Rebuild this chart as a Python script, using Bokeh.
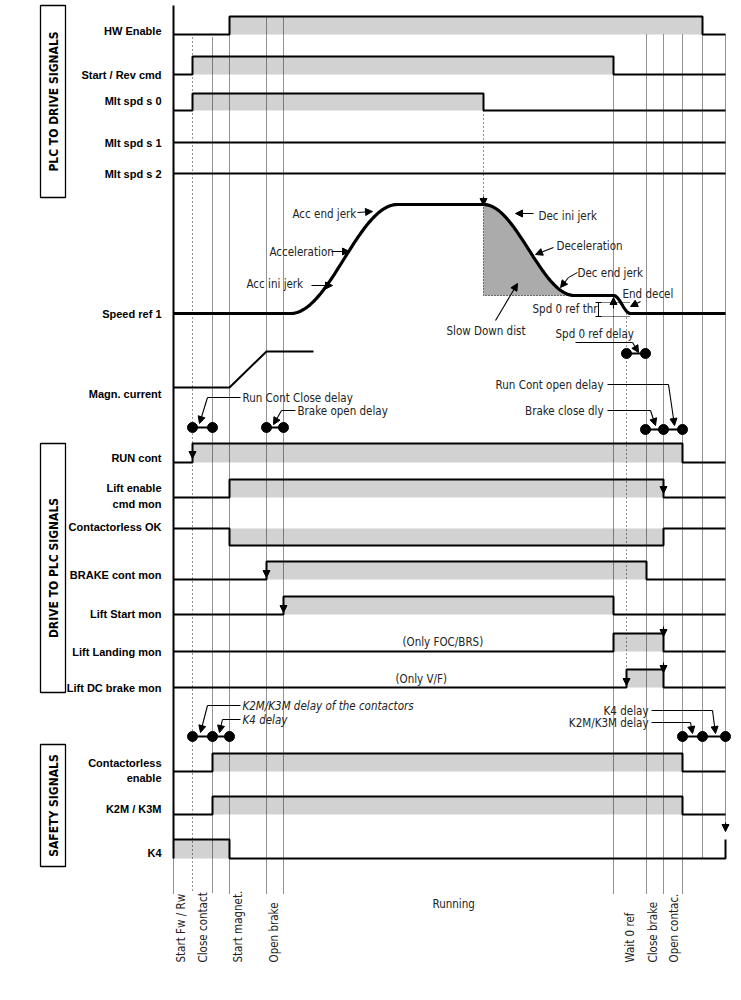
import numpy as np
from bokeh.plotting import figure
from bokeh.models import Range1d, Arrow, NormalHead, ColumnDataSource
from bokeh.core.properties import value
from bokeh.embed import file_html
from bokeh.resources import INLINE

# ---------------- data ----------------
# event instants on the time axis (drawing units)
event_names = ["Start Fw / Rw", "Close contact", "K2M on", "Start magnet.", "Open brake", "Lift start",
               "Slow down", "Wait 0 ref", "Spd 0 ref", "Close brake", "Brake closed", "Open contac.",
               "K2M off", "K4 on"]
event_t = [173, 192, 212, 229, 266, 283, 483, 613, 626, 646, 663, 682, 702, 725]

# digital signals: transition times and levels (1 = active)
hw_enable_t = [173, 229, 702, 725];          hw_enable_v = [0, 1, 0, 0]
start_rev_t = [173, 192, 613, 725];          start_rev_v = [0, 1, 0, 0]
mlt_s0_t = [173, 192, 483, 725];             mlt_s0_v = [0, 1, 0, 0]
mlt_s1_t = [173, 725];                       mlt_s1_v = [0, 0]
mlt_s2_t = [173, 725];                       mlt_s2_v = [0, 0]
run_cont_t = [173, 192, 682, 725];           run_cont_v = [0, 1, 0, 0]
lift_enable_t = [173, 229, 663, 725];        lift_enable_v = [0, 1, 0, 0]
contless_ok_t = [173, 229, 663, 725];        contless_ok_v = [0, 1, 0, 0]
brake_cont_t = [173, 266, 646, 725];         brake_cont_v = [0, 1, 0, 0]
lift_start_t = [173, 283, 613, 725];         lift_start_v = [0, 1, 0, 0]
lift_landing_t = [173, 613, 663, 725];       lift_landing_v = [0, 1, 0, 0]
lift_dc_t = [173, 626, 663, 725];            lift_dc_v = [0, 1, 0, 0]
contless_en_t = [173, 212, 682, 725];        contless_en_v = [0, 1, 0, 0]
k2m_t = [173, 212, 682, 725];                k2m_v = [0, 1, 0, 0]
k4_t = [173, 229, 725];                      k4_v = [1, 0, 1]

# analog profiles (normalised)
speed_t = [173, 290, 397, 483, 574, 613, 630, 725]
speed_v = [0, 0, 1, 1, 0.165, 0.165, 0, 0]
magn_t = [173, 229, 266, 313]
magn_v = [0, 0, 1, 1]

# ---------------- layout ----------------
FONT_B = "Liberation Sans"
FONT = "DejaVu Sans Condensed"
GREY = "#d2d2d2"
DARK = "#ababab"

p = figure(width=733, height=984, x_range=Range1d(0, 733), y_range=Range1d(984, 0),
           output_backend="svg", toolbar_location=None, min_border=0)
p.axis.visible = False
p.grid.visible = False
p.outline_line_color = None
p.background_fill_color = "white"

# rows: (y of inactive level, y of active level)
rows = [
    ("HW Enable", hw_enable_t, hw_enable_v, 34, 16),
    ("Start / Rev cmd", start_rev_t, start_rev_v, 74, 56),
    ("Mlt spd s 0", mlt_s0_t, mlt_s0_v, 110, 93),
    ("Mlt spd s 1", mlt_s1_t, mlt_s1_v, 142, 125),
    ("Mlt spd s 2", mlt_s2_t, mlt_s2_v, 173, 156),
    ("RUN cont", run_cont_t, run_cont_v, 462, 443),
    ("Lift enable", lift_enable_t, lift_enable_v, 497, 479),
    ("Contactorless OK", contless_ok_t, contless_ok_v, 528, 545),
    ("BRAKE cont mon", brake_cont_t, brake_cont_v, 579, 561),
    ("Lift Start mon", lift_start_t, lift_start_v, 614, 596),
    ("Lift Landing mon", lift_landing_t, lift_landing_v, 651, 633),
    ("Lift DC brake mon", lift_dc_t, lift_dc_v, 687, 669),
    ("Contactorless enable", contless_en_t, contless_en_v, 771, 753),
    ("K2M / K3M", k2m_t, k2m_v, 814, 796),
    ("K4", k4_t, k4_v, 858, 839),
]

# grey fills first
for name, ts, vs, ylo, yhi in rows:
    for i in range(len(ts) - 1):
        if vs[i]:
            p.quad(left=ts[i], right=ts[i + 1], top=yhi, bottom=ylo,
                   fill_color=GREY, line_color=None)

def profile(ts, vs, smooth=True, n=50):
    xs, ys = [], []
    for i in range(len(ts) - 1):
        s = np.linspace(0, 1, n)
        w = (1 - np.cos(np.pi * s)) / 2 if (smooth and vs[i] != vs[i + 1]) else s
        xs.extend(ts[i] + (ts[i + 1] - ts[i]) * s)
        ys.extend(vs[i] + (vs[i + 1] - vs[i]) * w)
    return np.array(xs), np.array(ys)

SP0, SP1 = 313, 204
sx, sv = profile(speed_t, speed_v)
sy = SP0 - (SP0 - SP1) * sv
low_y = SP0 - (SP0 - SP1) * speed_v[4]
m = (sx >= speed_t[3]) & (sx <= speed_t[4])
p.varea(x=sx[m], y1=sy[m], y2=low_y, fill_color=DARK)
p.line([speed_t[3], speed_t[3], speed_t[4]], [SP1, low_y, low_y], line_color="black",
       line_width=1, line_dash="1 2")

# vertical dotted event lines (time, top, bottom, dash)
vlines = [
    (192, 37, 893, "1 3"), (212, 37, 893, "1 1"), (229, 34, 893, "1 1"),
    (266, 16, 893, "1 1"), (283, 16, 893, "1 1"), (483, 110, 204, "1 3"),
    (613, 74, 893, "1 1"), (626, 313, 687, "1 3"), (646, 34, 893, "1 1"),
    (663, 34, 893, "1 1"), (682, 34, 893, "1 1"), (702, 34, 858, "1 1"),
    (725, 34, 830, "1 1"), (173, 858, 893, "1 1"),
]
for t, y0, y1, d in vlines:
    p.line([t, t], [y0, y1], line_color="black", line_width=1, line_dash=d, line_alpha=0.85)

p.line([173, 173], [5, 858], line_color="black", line_width=2)

for name, ts, vs, ylo, yhi in rows:
    xs, ys = [], []
    for i in range(len(ts)):
        if i > 0:
            xs.append(ts[i]); ys.append(yhi if vs[i - 1] else ylo)
        xs.append(ts[i]); ys.append(yhi if vs[i] else ylo)
    p.line(xs, ys, line_color="black", line_width=2)

p.line(sx, sy, line_color="black", line_width=3.2)

MG0, MG1 = 387, 351
mx, mv = profile(magn_t, magn_v, smooth=False, n=2)
p.line(mx, MG0 - (MG0 - MG1) * mv, line_color="black", line_width=2)

p.segment(x0=[598, 598], y0=[302, 316], x1=[630, 630], y1=[302, 316], line_color="black",
          line_width=1, line_dash="1 1")
p.segment(x0=[598, 595, 595], y0=[302, 302, 316], x1=[598, 601, 601], y1=[316, 302, 316],
          line_color="black", line_width=1)

boxes = [("PLC TO DRIVE SIGNALS", 5, 197), ("DRIVE TO PLC SIGNALS", 443, 692),
         ("SAFETY SIGNALS", 744, 866)]
for txt, y0, y1 in boxes:
    p.quad(left=40, right=65, top=y0, bottom=y1, fill_color=None, line_color="black", line_width=1.3)
    p.text(x=[53], y=[(y0 + y1) / 2], text=[txt], angle=np.pi / 2, text_align="center",
           text_baseline="middle", text_font=value(FONT), text_font_style="bold",
           text_font_size="12px", text_color="black")

row_labels = ["HW Enable", "Start / Rev cmd", "Mlt spd s 0", "Mlt spd s 1", "Mlt spd s 2",
              "Speed ref 1", "Magn. current", "RUN cont", "Lift enable", "cmd mon",
              "Contactorless OK", "BRAKE cont mon", "Lift Start mon", "Lift Landing mon",
              "Lift DC brake mon", "Contactorless", "enable", "K2M / K3M", "K4"]
row_label_y = [30, 74, 100, 142, 173, 313, 393, 457, 487, 503, 526, 574, 613, 651, 687,
               762, 777, 808, 852]
p.text(x=[161] * len(row_labels), y=row_label_y, text=row_labels, text_align="right",
       text_baseline="middle", text_font=value(FONT_B), text_font_style="bold",
       text_font_size="11px", text_color="black")

ann = [("Acc end jerk", 292, 213), ("Acceleration", 269, 251), ("Acc ini jerk", 246, 283),
       ("Dec ini jerk", 538, 215), ("Deceleration", 556, 245), ("Dec end jerk", 577, 272),
       ("End decel", 622, 293), ("Spd 0 ref thr", 532, 308), ("Slow Down dist", 446, 330),
       ("Spd 0 ref delay", 555, 333), ("Run Cont Close delay", 242, 397),
       ("Brake open delay", 297, 410), ("(Only FOC/BRS)", 402, 641), ("(Only V/F)", 395, 678),
       ("Running", 432, 903)]
p.text(x=[a[1] for a in ann], y=[a[2] for a in ann], text=[a[0] for a in ann],
       text_align="left", text_baseline="middle", text_font=value(FONT),
       text_font_size="11.5px", text_color="#222222")
ann_r = [("Run Cont open delay", 603, 384), ("Brake close dly", 603, 410),
         ("K4 delay", 648, 710), ("K2M/K3M delay", 648, 722)]
p.text(x=[a[1] for a in ann_r], y=[a[2] for a in ann_r], text=[a[0] for a in ann_r],
       text_align="right", text_baseline="middle", text_font=value(FONT),
       text_font_size="11.5px", text_color="#222222")
ann_i = [("K2M/K3M delay of the contactors", 242, 705), ("K4 delay", 242, 719)]
p.text(x=[a[1] for a in ann_i], y=[a[2] for a in ann_i], text=[a[0] for a in ann_i],
       text_align="left", text_baseline="middle", text_font=value(FONT),
       text_font_style="italic", text_font_size="11.5px", text_color="#222222")

ev_lab = ["Start Fw / Rw", "Close contact", "Start magnet.", "Open brake",
          "Wait 0 ref", "Close brake", "Open contac."]
ev_lab_x = [180, 202, 237, 273, 629, 652, 673]
p.text(x=ev_lab_x, y=[962] * len(ev_lab), text=ev_lab, angle=np.pi / 2, text_align="left",
       text_baseline="middle", text_font=value(FONT), text_font_size="11.5px",
       text_color="#222222")

leaders = [
    ([240, 207], [397, 397]), ([295, 281], [410, 410]), ([575, 632], [342, 342]),
    ([607, 668], [384, 384]), ([607, 650], [410, 410]), ([240, 207], [705, 705]),
    ([240, 222], [719, 719]), ([651, 712], [710, 710]), ([651, 690], [722, 722]),
    ([577, 568], [272, 277]),
]
for xs, ys in leaders:
    p.line(xs, ys, line_color="black", line_width=1)

arrows = dict(
    x_start=[357, 331, 311, 533, 553, 568, 640, 495, 632, 668, 650, 207, 281, 207, 222, 712, 690,
             192, 663, 266, 283, 663, 626, 663, 725, 613, 483],
    y_start=[212, 251, 285, 213, 247, 277, 301, 320, 342, 384, 410, 397, 410, 705, 719, 710, 722,
             449, 484, 567, 602, 626, 675, 662, 822, 308, 196],
    x_end=[372, 349, 332, 515, 535, 560, 630, 517, 638, 674, 655, 199, 273, 200, 219, 715, 692,
           192, 663, 266, 283, 663, 626, 663, 725, 613, 483],
    y_end=[211, 251, 285, 213, 254, 287, 306, 283, 352, 425, 425, 423, 424, 732, 732, 733, 733,
           458, 493, 577, 612, 636, 685, 672, 831, 297, 205],
)
p.add_layout(Arrow(end=NormalHead(size=7, line_color="black", fill_color="black", line_width=1),
                   source=ColumnDataSource(arrows), x_start="x_start", y_start="y_start",
                   x_end="x_end", y_end="y_end", line_color="black", line_width=1.1))

delay_groups = [([192, 212], 427), ([266, 283], 427), ([626, 645], 353),
                ([645, 663, 682], 429), ([192, 212, 229], 736), ([682, 702, 725], 736)]
for ts, y in delay_groups:
    p.line(ts, [y] * len(ts), line_color="black", line_width=2)
    p.scatter(ts, [y] * len(ts), size=10, marker="circle", fill_color="black", line_color="black")

open("out.html", "w").write(file_html(p, INLINE))
